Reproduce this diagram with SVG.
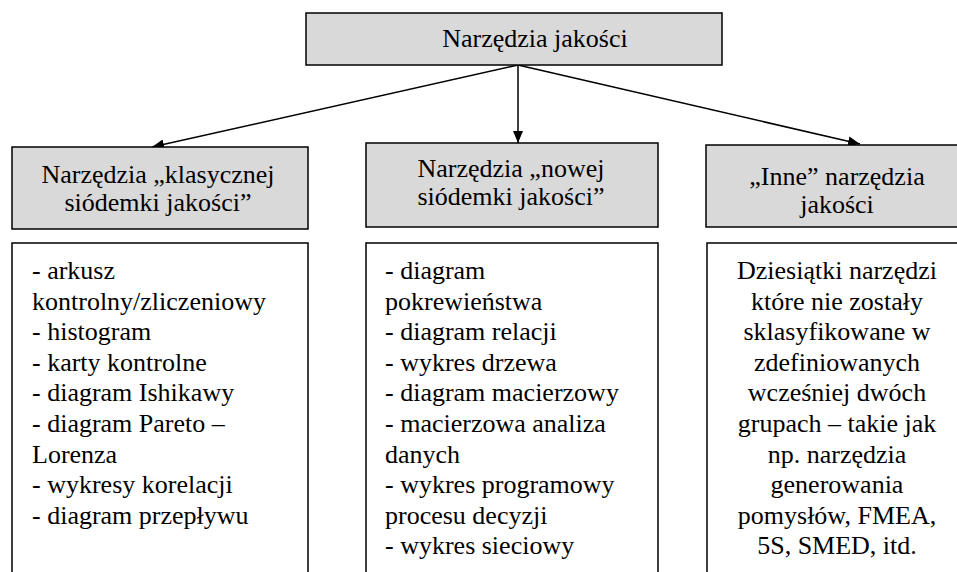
<svg xmlns="http://www.w3.org/2000/svg" width="957" height="572" viewBox="0 0 957 572">
<style>
.hd{fill:#d9d9d9;stroke:#000;stroke-width:1.5}
.bx{fill:#fff;stroke:#000;stroke-width:1.5}
.t{font-family:'Liberation Serif','Times New Roman',serif;font-size:26px;fill:#000}
.c{text-anchor:middle}
.ln{stroke:#000;stroke-width:1.5;fill:none}
</style>
<defs>
<marker id="ah" markerWidth="12" markerHeight="10" refX="12" refY="5" orient="auto" markerUnits="userSpaceOnUse" viewBox="0 0 12 10">
<path d="M0,0 L12,5 L0,10 Z" fill="#000"/>
</marker>
</defs>
<rect width="957" height="572" fill="#fff"/>
<g id="connectors">
<line class="ln" x1="518" y1="65" x2="152" y2="147" marker-end="url(#ah)"/>
<line class="ln" x1="518" y1="65" x2="518" y2="143" marker-end="url(#ah)"/>
<line class="ln" x1="518" y1="65" x2="860" y2="144" marker-end="url(#ah)"/>
</g>
<g id="root" class="t">
<rect class="hd" x="306" y="13" width="416" height="52"/>
<text class="c" x="535" y="47">Narzędzia jakości</text>
</g>
<g id="h-classic" class="t">
<rect class="hd" x="12" y="147" width="296" height="82"/>
<text class="c" x="158" y="183">Narzędzia „klasycznej</text>
<text class="c" x="158" y="211">siódemki jakości”</text>
</g>
<g id="h-new" class="t">
<rect class="hd" x="366" y="143" width="292" height="84"/>
<text class="c" x="511" y="177">Narzędzia „nowej</text>
<text class="c" x="511" y="205">siódemki jakości”</text>
</g>
<g id="h-other" class="t">
<rect class="hd" x="706" y="145" width="270" height="82"/>
<text class="c" x="837" y="185">„Inne” narzędzia</text>
<text class="c" x="837" y="213">jakości</text>
</g>
<g id="l-classic" class="t">
<rect class="bx" x="12" y="243" width="296" height="340"/>
<text x="32" y="279">- arkusz</text>
<text x="32" y="309.6">kontrolny/zliczeniowy</text>
<text x="32" y="340.2">- histogram</text>
<text x="32" y="370.8">- karty kontrolne</text>
<text x="32" y="401.4">- diagram Ishikawy</text>
<text x="32" y="432">- diagram Pareto –</text>
<text x="32" y="462.6">Lorenza</text>
<text x="32" y="493.2">- wykresy korelacji</text>
<text x="32" y="523.8">- diagram przepływu</text>
</g>
<g id="l-new" class="t">
<rect class="bx" x="366" y="243" width="292" height="340"/>
<text x="385" y="279">- diagram</text>
<text x="385" y="309.6">pokrewieństwa</text>
<text x="385" y="340.2">- diagram relacji</text>
<text x="385" y="370.8">- wykres drzewa</text>
<text x="385" y="401.4">- diagram macierzowy</text>
<text x="385" y="432">- macierzowa analiza</text>
<text x="385" y="462.6">danych</text>
<text x="385" y="493.2">- wykres programowy</text>
<text x="385" y="523.8">procesu decyzji</text>
<text x="385" y="554.4">- wykres sieciowy</text>
</g>
<g id="l-other" class="t">
<rect class="bx" x="707" y="243" width="270" height="340"/>
<text class="c" x="837" y="279">Dziesiątki narzędzi</text>
<text class="c" x="837" y="309.6">które nie zostały</text>
<text class="c" x="837" y="340.2">sklasyfikowane w</text>
<text class="c" x="837" y="370.8">zdefiniowanych</text>
<text class="c" x="837" y="401.4">wcześniej dwóch</text>
<text class="c" x="837" y="432">grupach – takie jak</text>
<text class="c" x="837" y="462.6">np. narzędzia</text>
<text class="c" x="837" y="493.2">generowania</text>
<text class="c" x="837" y="523.8">pomysłów, FMEA,</text>
<text class="c" x="837" y="554.4">5S, SMED, itd.</text>
</g>
</svg>
